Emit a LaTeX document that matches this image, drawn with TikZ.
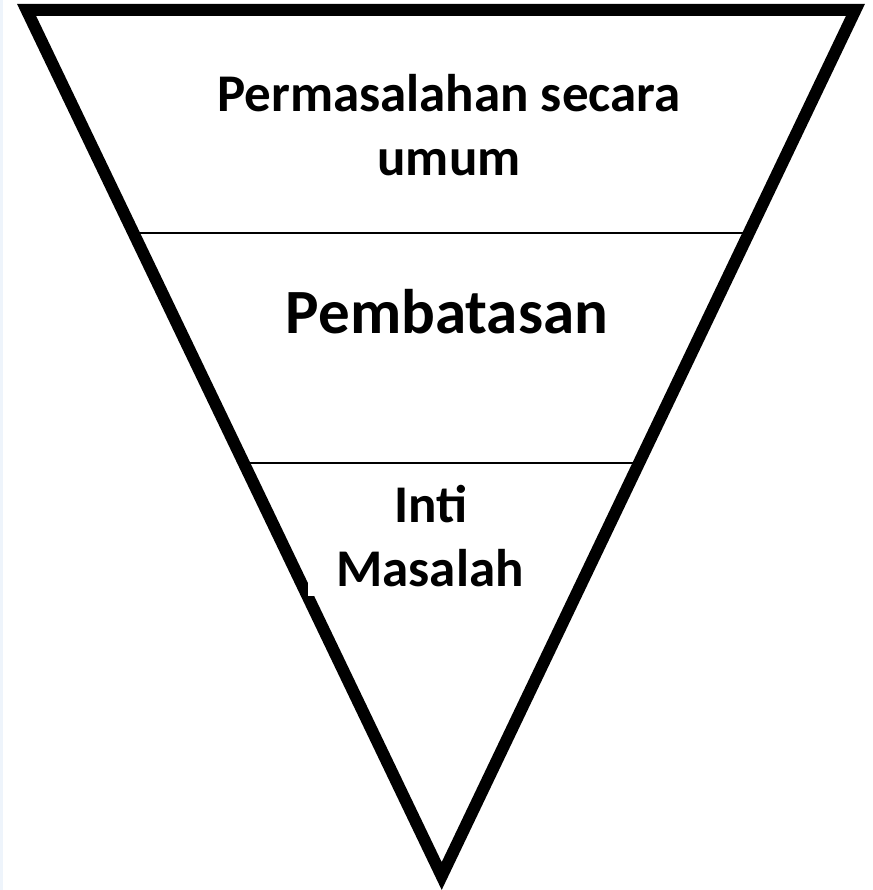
\documentclass[tikz,border=0pt]{standalone}
\usepackage{fontspec}
\setmainfont{Carlito}
\usetikzlibrary{calc}
\definecolor{edgeblue}{HTML}{EEF4FB}
\tikzset{
  funnel/.style={draw=black, line width=12pt, line join=miter, miter limit=20},
  divider/.style={draw=black, line width=2pt},
  lblsmall/.style={anchor=base, inner sep=0pt, font=\fontsize{53}{64}\selectfont\bfseries},
  lblbig/.style={anchor=base, inner sep=0pt, font=\fontsize{63}{76}\selectfont\bfseries},
}
\begin{document}
\begin{tikzpicture}[x=1pt, y=-1pt]
\useasboundingbox (0,0) rectangle (872,890);
\fill[white] (0,0) rectangle (872,890);
\fill[edgeblue] (0,0) rectangle (2.5,890);
\coordinate (A) at (26.6,10);
\coordinate (B) at (855.4,10);
\coordinate (C) at (441.7,876);
% dividers
\coordinate (L1) at ($(A)!0.2575!(C)$);
\coordinate (R1) at ($(B)!0.2575!(C)$);
\coordinate (L2) at ($(A)!0.5231!(C)$);
\coordinate (R2) at ($(B)!0.5231!(C)$);
\draw[divider] (L1) -- (R1);
\draw[divider] (L2) -- (R2);
\draw[funnel] (A) -- (B) -- (C) -- cycle;
% small white notch over the left edge
\fill[white] (308,545) rectangle (330,596);
% labels
\node[lblsmall] (t1a) at (449,112) {Permasalahan secara};
\node[lblsmall] (t1b) at (449,176) {umum};
\node[lblbig] (t2) at (447,333) {Pembatasan};
\node[lblsmall] (t3a) at (431,522) {Inti};
\node[lblsmall] (t3b) at (430,586) {Masalah};
\end{tikzpicture}
\end{document}
